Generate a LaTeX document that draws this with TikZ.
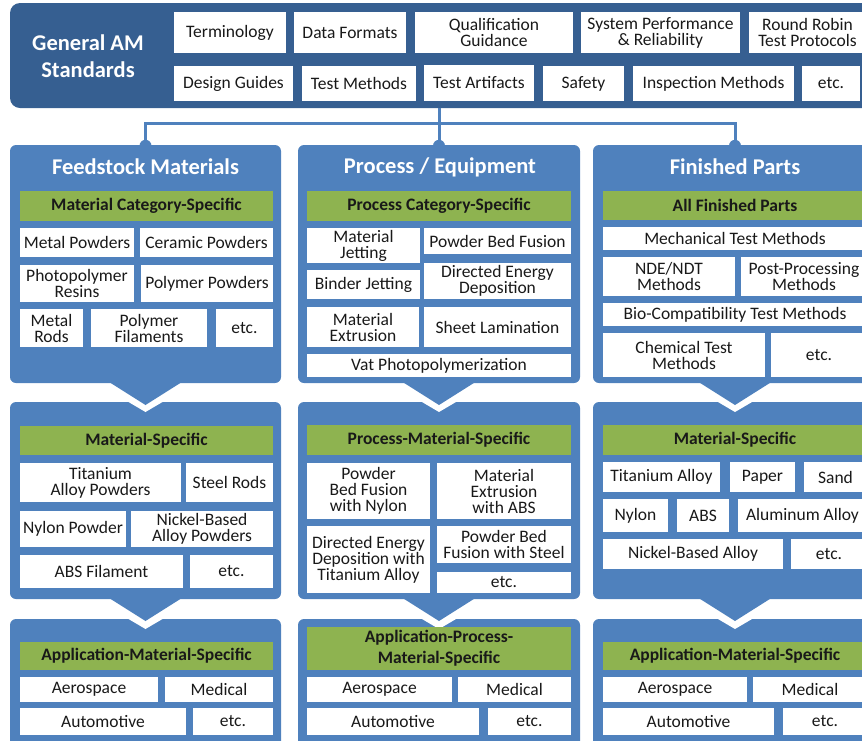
\documentclass[tikz,border=0pt]{standalone}
\usepackage{fontspec}
\setmainfont{Carlito}
\usetikzlibrary{calc}
\definecolor{dkblue}{RGB}{54,95,145}
\definecolor{colblue}{RGB}{79,129,189}
\definecolor{grn}{RGB}{142,179,80}
\definecolor{txt}{RGB}{25,25,25}
\newcommand\mkbox[7]{\node[#7, minimum width={#4-#2}, minimum height={#5-#3}] (#1) at ({(#2+#4)/2},{(#3+#5)/2}) {#6};}
\newcommand\chev[2]{\fill[colblue] (#1-38,#2-2) -- (#1,#2+22) -- (#1+38,#2-2) -- cycle;}
\newcommand\notch[2]{\fill[white] (#1-17,#2-1) -- (#1-17,#2) -- (#1,#2+10) -- (#1+17,#2) -- (#1+17,#2-1) -- cycle;}
\begin{document}
\begin{tikzpicture}[x=1pt,y=-1pt,
 wb/.style={fill=white, inner sep=0pt, align=center, text=txt, font=\fontsize{17.5}{16}\selectfont},
 gb/.style={fill=grn, inner sep=0pt, align=center, text=txt, font=\bfseries\fontsize{17.5}{21}\selectfont},
 colbox/.style={fill=colblue, rounded corners=6pt, inner sep=0pt},
 ttl/.style={text=white, font=\bfseries\fontsize{22.5}{27}\selectfont, align=center, inner sep=0pt},
 link/.style={draw=colblue, line width=3pt}]
\useasboundingbox (0,0) rectangle (862,740);
\clip (0,0) rectangle (862,740);
% top bar
\mkbox{gen}{10}{3}{880}{108}{}{colbox, fill=dkblue, rounded corners=10pt}
\node[ttl] (gentitle) at (88,56) {General AM\\Standards};
% column boxes row 3
\mkbox{c1c}{10}{619}{281}{770}{}{colbox}
\mkbox{c2c}{298}{619}{580}{770}{}{colbox}
\mkbox{c3c}{593}{619}{877}{770}{}{colbox}
\notch{145.5}{619}\notch{439}{619}\notch{735}{619}
% column boxes row 2
\mkbox{c1b}{10}{402}{281}{599}{}{colbox}
\mkbox{c2b}{298}{402}{580}{599}{}{colbox}
\mkbox{c3b}{593}{402}{877}{599}{}{colbox}
\chev{145.5}{599}\chev{439}{599}\chev{735}{599}
\notch{145.5}{402}\notch{439}{402}\notch{735}{402}
% column boxes row 1
\mkbox{c1a}{10}{145}{281}{383}{}{colbox}
\mkbox{c2a}{298}{145}{580}{383}{}{colbox}
\mkbox{c3a}{593}{145}{877}{383}{}{colbox}
\chev{145.5}{383}\chev{439}{383}\chev{735}{383}
% connectors
\coordinate (hub) at (439,123);
\draw[link] (gen.south -| hub) -- (c2a.north);
\draw[link] (c1a.north) -- (c1a.north |- hub) -- (c3a.north |- hub) -- (c3a.north);
\fill[colblue] (c1a.north) ++(0,1) circle (6pt);
\fill[colblue] (c2a.north) ++(0,1) circle (6pt);
\fill[colblue] (c3a.north) ++(0,1) circle (6pt);
% top bar boxes
\mkbox{t1}{174}{12}{286}{53}{Terminology}{wb}
\mkbox{t2}{294}{12}{406}{53}{Data Formats}{wb}
\mkbox{t3}{415}{12}{573}{53}{Qualification\\Guidance}{wb}
\mkbox{t4}{581}{12}{740}{53}{System Performance\\\& Reliability}{wb}
\mkbox{t5}{749}{12}{866}{53}{Round Robin\\Test Protocols}{wb}
\mkbox{t6}{174}{66}{293}{101}{Design Guides}{wb}
\mkbox{t7}{302}{66}{416}{101}{Test Methods}{wb}
\mkbox{t8}{424}{65}{534}{101}{Test Artifacts}{wb}
\mkbox{t9}{543}{66}{624}{101}{Safety}{wb}
\mkbox{t10}{633}{66}{794}{101}{Inspection Methods}{wb}
\mkbox{t11}{802}{66}{860}{101}{etc.}{wb}
% column titles
\node[ttl] (ttl1) at (145.5,167) {Feedstock Materials};
\node[ttl] (ttl2) at (440,167) {Process / Equipment};
\node[ttl] (ttl3) at (735,167) {Finished Parts};
% column 1 row 1
\mkbox{g1a}{20}{191}{273}{221}{Material Category-Specific}{gb}
\mkbox{a11}{20}{228}{134}{257}{Metal Powders}{wb}
\mkbox{a12}{140}{228}{273}{257}{Ceramic Powders}{wb}
\mkbox{a13}{20}{265}{134}{302}{Photopolymer\\Resins}{wb}
\mkbox{a14}{141}{265}{273}{302}{Polymer Powders}{wb}
\mkbox{a15}{20}{309}{83}{347}{Metal\\Rods}{wb}
\mkbox{a16}{91}{309}{207}{347}{Polymer\\Filaments}{wb}
\mkbox{a17}{216}{309}{273}{347}{etc.}{wb}
% column 2 row 1
\mkbox{g2a}{307}{191}{571}{221}{Process Category-Specific}{gb}
\mkbox{a21}{307}{228}{420}{263}{Material\\Jetting}{wb}
\mkbox{a22}{424}{228}{571}{254}{Powder Bed Fusion}{wb}
\mkbox{a23}{307}{270}{420}{299}{Binder Jetting}{wb}
\mkbox{a24}{424}{263}{571}{299}{Directed Energy\\Deposition}{wb}
\mkbox{a25}{307}{307}{419}{347}{Material\\Extrusion}{wb}
\mkbox{a26}{424}{307}{571}{347}{Sheet Lamination}{wb}
\mkbox{a27}{307}{354}{571}{377}{Vat Photopolymerization}{wb}
% column 3 row 1
\mkbox{g3a}{603}{191}{867}{220}{All Finished Parts}{gb}
\mkbox{a31}{603}{227}{867}{250}{Mechanical Test Methods}{wb}
\mkbox{a32}{603}{257}{735}{296}{NDE/NDT\\Methods}{wb}
\mkbox{a33}{741}{257}{867}{296}{Post-Processing\\Methods}{wb}
\mkbox{a34}{603}{303}{867}{326}{Bio-Compatibility Test Methods}{wb}
\mkbox{a35}{603}{333}{765}{377}{Chemical Test\\Methods}{wb}
\mkbox{a36}{771}{333}{867}{377}{etc.}{wb}
% column 1 row 2
\mkbox{g1b}{20}{426}{273}{455}{Material-Specific}{gb}
\mkbox{b11}{20}{463}{181}{502}{Titanium\\Alloy Powders}{wb}
\mkbox{b12}{186}{463}{273}{502}{Steel Rods}{wb}
\mkbox{b13}{20}{511}{126}{547}{Nylon Powder}{wb}
\mkbox{b14}{131}{511}{273}{547}{Nickel-Based\\Alloy Powders}{wb}
\mkbox{b15}{20}{555}{183}{588}{ABS Filament}{wb}
\mkbox{b16}{190}{555}{273}{588}{etc.}{wb}
% column 2 row 2
\mkbox{g2b}{307}{425}{571}{455}{Process-Material-Specific}{gb}
\mkbox{b21}{307}{463}{430}{519}{Powder\\Bed Fusion\\with Nylon}{wb}
\mkbox{b22}{437}{463}{571}{519}{Material\\Extrusion\\with ABS}{wb}
\mkbox{b23}{307}{526}{430}{593}{Directed Energy\\Deposition with\\Titanium Alloy}{wb}
\mkbox{b24}{437}{526}{571}{563}{Powder Bed\\Fusion with Steel}{wb}
\mkbox{b25}{437}{572}{571}{593}{etc.}{wb}
% column 3 row 2
\mkbox{g3b}{603}{425}{867}{455}{Material-Specific}{gb}
\mkbox{b31}{603}{462}{720}{492}{Titanium Alloy}{wb}
\mkbox{b32}{730}{462}{795}{492}{Paper}{wb}
\mkbox{b33}{804}{462}{867}{492}{Sand}{wb}
\mkbox{b34}{603}{499}{668}{532}{Nylon}{wb}
\mkbox{b35}{677}{499}{729}{532}{ABS}{wb}
\mkbox{b36}{738}{499}{867}{532}{Aluminum Alloy}{wb}
\mkbox{b37}{603}{539}{783}{569}{Nickel-Based Alloy}{wb}
\mkbox{b38}{791}{539}{867}{569}{etc.}{wb}
% row 3
\mkbox{g1c}{20}{642}{273}{670}{Application-Material-Specific}{gb}
\mkbox{c11}{20}{677}{158}{702}{Aerospace}{wb}
\mkbox{c12}{165}{677}{273}{702}{Medical}{wb}
\mkbox{c13}{20}{708}{186}{735}{Automotive}{wb}
\mkbox{c14}{193}{708}{273}{735}{etc.}{wb}
\mkbox{g2c}{307}{627}{571}{670}{Application-Process-\\Material-Specific}{gb}
\mkbox{c21}{307}{677}{452}{702}{Aerospace}{wb}
\mkbox{c22}{458}{677}{571}{702}{Medical}{wb}
\mkbox{c23}{307}{708}{479}{735}{Automotive}{wb}
\mkbox{c24}{488}{708}{571}{735}{etc.}{wb}
\mkbox{g3c}{603}{642}{867}{670}{Application-Material-Specific}{gb}
\mkbox{c31}{603}{677}{747}{702}{Aerospace}{wb}
\mkbox{c32}{753}{677}{867}{702}{Medical}{wb}
\mkbox{c33}{603}{708}{774}{735}{Automotive}{wb}
\mkbox{c34}{783}{708}{867}{735}{etc.}{wb}
\end{tikzpicture}
\end{document}
